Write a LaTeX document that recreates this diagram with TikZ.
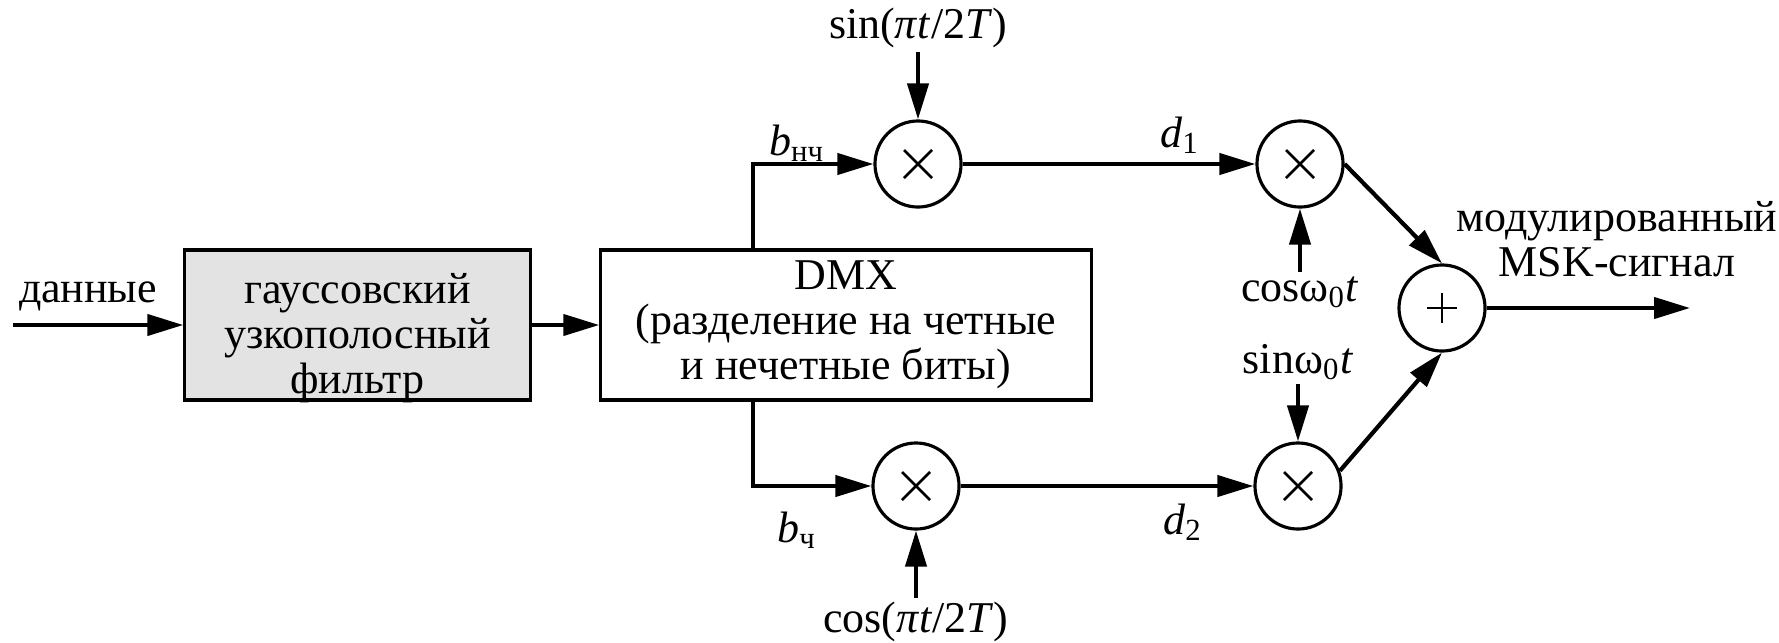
\documentclass[tikz,border=0pt]{standalone}
\usepackage{fontspec}
\setmainfont{Liberation Serif}
\usetikzlibrary{arrows.meta}
\begin{document}
\begin{tikzpicture}[x=0.01cm,y=-0.01cm,
  font=\fontsize{12.5}{12.8}\selectfont,
  conn/.style={line width=1.2pt,-{Triangle[length=0.36cm,width=0.21cm]}},
  blockbox/.style={draw,line width=0.9pt,inner sep=0pt,align=center,minimum height=1.5cm},
  mult/.style={circle,draw,line width=0.9pt,minimum size=0.86cm,inner sep=0pt,
    path picture={
      \draw[line width=0.75pt] ([shift={(-0.14cm,-0.14cm)}]path picture bounding box.center) -- ([shift={(0.14cm,0.14cm)}]path picture bounding box.center);
      \draw[line width=0.75pt] ([shift={(-0.14cm,0.14cm)}]path picture bounding box.center) -- ([shift={(0.14cm,-0.14cm)}]path picture bounding box.center);}},
  summer/.style={circle,draw,line width=0.9pt,minimum size=0.86cm,inner sep=0pt,
    path picture={
      \draw[line width=0.75pt] ([shift={(-0.15cm,0cm)}]path picture bounding box.center) -- ([shift={(0.15cm,0cm)}]path picture bounding box.center);
      \draw[line width=0.75pt] ([shift={(0cm,-0.15cm)}]path picture bounding box.center) -- ([shift={(0cm,0.15cm)}]path picture bounding box.center);}},
  lbl/.style={inner sep=1pt}
]
\useasboundingbox (0,0) rectangle (1779,642);

% blocks
\node[blockbox,fill=gray!22,minimum width=3.45cm] (gauss) at (357.5,325)
  {\raisebox{-0.25cm}[0pt][0pt]{\begin{tabular}{@{}c@{}}гауссовский\\узкополосный\\фильтр\end{tabular}}};
\node[blockbox,minimum width=4.9cm] (dmx) at (846,325) {DMX\\(разделение на четные\\и нечетные биты)};

\node[mult] (m1) at (918,164) {};
\node[mult] (m2) at (916,486) {};
\node[mult] (m3) at (1300,164) {};
\node[mult] (m4) at (1298,486) {};
\node[summer] (sum) at (1442,308) {};

% texts
\node[lbl] (dannye) at (88,296) {данные};
\node[lbl] (sinpi) at (918,28) {sin(\textit{π}\textit{t}/2\textit{T})};
\node[lbl] (cospi) at (916,622) {cos(\textit{π}\textit{t}/2\textit{T})};
\node[lbl] (cosw) at (1300,292) {cosω\textsubscript{0}\textit{t}};
\node[lbl] (sinw) at (1298,362) {sinω\textsubscript{0}\textit{t}};
\node[lbl] (bnc) at (797,143) {\textit{b}\textsubscript{нч}};
\node[lbl] (bc) at (797,530) {\textit{b}\textsubscript{ч}};
\node[lbl] (d1) at (1180,135) {\textit{d}\textsubscript{1}};
\node[lbl] (d2) at (1183,522) {\textit{d}\textsubscript{2}};
\node[lbl,align=center] (msk) at (1617,239) {модулированный\\MSK-сигнал};

\coordinate (in) at (13,325);
\coordinate (out) at (1690,308);

% connectors
\draw[conn] (in) -- (gauss.west);
\draw[conn] (gauss.east) -- (dmx.west);
\draw[conn] ([xshift=-0.93cm]dmx.north) |- (m1.west);
\draw[conn] ([xshift=-0.93cm]dmx.south) |- (m2.west);
\draw[conn] (sinpi.south) -- (m1.north);
\draw[conn] (cospi.north) -- (m2.south);
\draw[conn] (m1.east) -- (m3.west);
\draw[conn] (m2.east) -- (m4.west);
\draw[conn] (cosw.north) -- (m3.south);
\draw[conn] (sinw.south) -- (m4.north);
\draw[conn] (m3.east) -- (sum.north);
\draw[conn] (m4.20) -- (sum.south);
\draw[conn] (sum.east) -- (out);
\end{tikzpicture}
\end{document}
